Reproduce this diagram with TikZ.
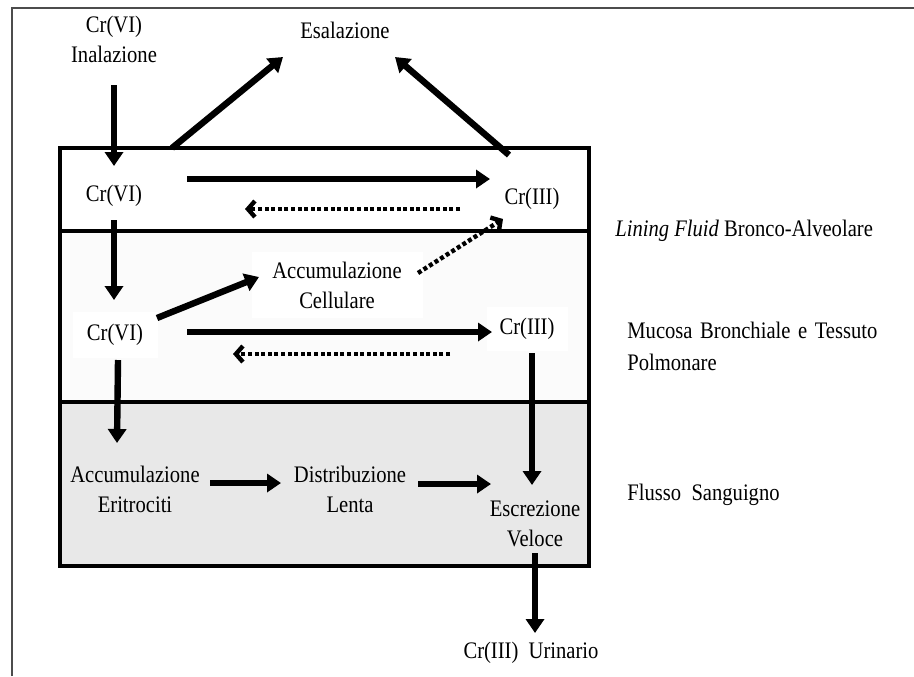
\documentclass[tikz,border=0pt]{standalone}
\usepackage{fontspec}
\setmainfont{Liberation Serif}
\usetikzlibrary{arrows.meta}
\begin{document}
\begin{tikzpicture}[x=0.5pt, y=-0.5pt, font=\fontsize{10.3}{13}\selectfont,
    main/.style = {align=center, inner sep=1pt, yscale=1.15, transform shape},
    blank/.style = {main, fill=white},
    flow/.style = {line width=3.2pt, -{Triangle[length=7pt, width=9pt]}},
    back/.style = {line width=2.2pt, dash pattern=on 2pt off 1.3pt, -{Straight Barb[length=3.5pt, width=8pt]}}]
    \useasboundingbox (0,0) rectangle (914,676);
    % the three layers
    \fill[gray!3] (60,231) rectangle (589,402);
    \fill[gray!18] (60,402) rectangle (589,566);
    \draw[line width=2pt] (60,148) rectangle (589,566);
    \draw[line width=2pt] (60,231) -- (589,231) (60,402) -- (589,402);
    \draw[gray!60!black, line width=0.8pt] (12,676) -- (12,8) -- (914,8);
    \node[main] (1) at (114,39) {Cr(VI)\\Inalazione};
    \node[main] (2) at (345,30) {Esalazione};
    \node[main] (3) at (114,196) {Cr(VI)};
    \node[main] (4) at (532,199) {Cr(III)};
    \node[blank, minimum width=42.5pt, minimum height=20pt] (5) at (115,335) {Cr(VI)};
    \node[blank, minimum width=85.5pt, minimum height=29pt] (6) at (337,285) {Accumulazione\\Cellulare};
    \node[blank, minimum width=40.5pt, minimum height=19pt] (7) at (527,329) {Cr(III)};
    \node[main] (8) at (135,489) {Accumulazione\\Eritrociti};
    \node[main] (9) at (350,489) {Distribuzione\\Lenta};
    \node[main] (10) at (535,524) {Escrezione\\Veloce};
    \node[main] (11) at (531,653) {Cr(III)\ \ Urinario};
    \node[main, anchor=west] (12) at (613,231) {\textit{Lining Fluid} Bronco-Alveolare};
    \node[main, anchor=west, align=left] (13) at (625,346) {\makebox[125pt][s]{Mucosa Bronchiale e Tessuto}\\[1pt]Polmonare};
    \node[main, anchor=west] (14) at (625,495) {Flusso\ \ Sanguigno};
    \coordinate (t) at (172,148);
    \draw[flow] ([shift={(0,46)}]1.center) -- ([shift={(0,-30)}]3.center);
    \draw[flow] (t) -- ([shift={(-62,27)}]2.center);
    \draw[flow] ([shift={(-23,-44)}]4.center) -- ([shift={(50,27)}]2.center);
    \draw[flow] ([shift={(73,-17)}]3.center) -- ([shift={(-42,-20)}]4.center);
    \draw[back] ([shift={(-72,10)}]4.center) -- ([shift={(131,13)}]3.center);
    \draw[flow] ([shift={(0,24)}]3.center) -- ([shift={(-1,-35)}]5.center);
    \draw[flow] ([shift={(42,-17)}]5.center) -- ([shift={(-78,-8)}]6.center);
    \draw[back] ([shift={(81,-12)}]6.center) -- ([shift={(-29,20)}]4.center);
    \draw[flow] ([shift={(72,-3)}]5.center) -- ([shift={(-35,3)}]7.center);
    \draw[back] ([shift={(-77,25)}]7.center) -- ([shift={(118,19)}]5.center);
    \draw[flow] ([shift={(3,25)}]5.center) -- ([shift={(-18,-46)}]8.center);
    \draw[flow] ([shift={(5,24)}]7.center) -- ([shift={(-3,-39)}]10.center);
    \draw[flow] ([shift={(75,-6)}]8.center) -- ([shift={(-69,-6)}]9.center);
    \draw[flow] ([shift={(68,-5)}]9.center) -- ([shift={(-44,-40)}]10.center);
    \draw[flow] ([shift={(0,29)}]10.center) -- ([shift={(4,-20)}]11.center);
\end{tikzpicture}
\end{document}
